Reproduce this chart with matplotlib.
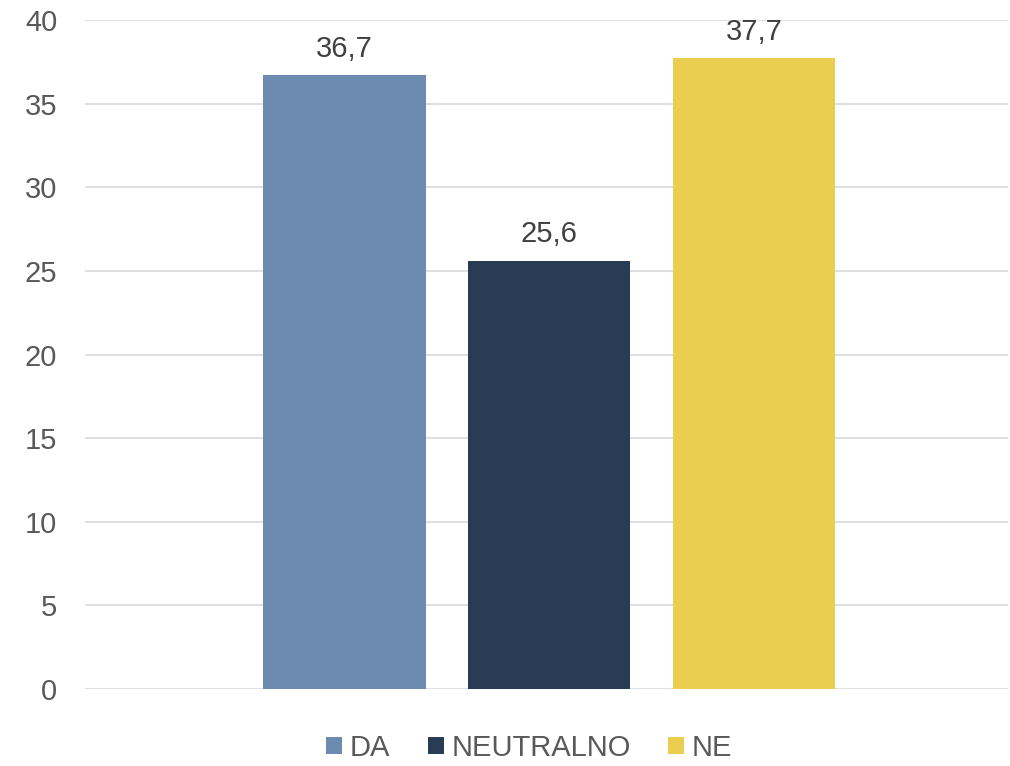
import matplotlib
matplotlib.use("Agg")
import matplotlib.pyplot as plt
from matplotlib.patches import Patch

plt.rcParams['font.family'] = ['Liberation Sans', 'DejaVu Sans']

series = ["DA", "NEUTRALNO", "NE"]
values = [36.7, 25.6, 37.7]
labels = ["36,7", "25,6", "37,7"]
colors = ["#6D8AB0", "#293C56", "#EBCE50"]
yticks = [0, 5, 10, 15, 20, 25, 30, 35, 40]

text_color = '#595959'
fs = 21

fig = plt.figure(figsize=(10.10, 7.66), dpi=100)
ax = fig.add_axes([85/1010, 77/766, 923/1010, 669/766])

width = 0.176
offsets = [-0.222, 0.0, 0.222]
for s, v, lab, c, off in zip(series, values, labels, colors, offsets):
    ax.bar(off + 0.003, v, width=width, color=c, label=s, zorder=3)
    ax.annotate(lab, (off + 0.003, v), xytext=(0, 9), textcoords='offset points',
                ha='center', va='bottom', fontsize=fs, color='#404040')

ax.set_xlim(-0.5, 0.5)
ax.set_ylim(0, 40)
ax.set_yticks(yticks)
ax.set_yticklabels([str(t) for t in yticks], fontsize=fs, color=text_color)
ax.set_xticks([])
ax.tick_params(axis='y', length=0, pad=20)
ax.grid(axis='y', color='#D9D9D9', linewidth=1.2, zorder=0)
for sp in ax.spines.values():
    sp.set_visible(False)

handles = [Patch(facecolor=c, label=s) for s, c in zip(series, colors)]
fig.legend(handles=handles, loc='center', bbox_to_anchor=(0.524, 1 - 748/766), ncol=3,
           frameon=False, fontsize=fs, handlelength=0.55, handleheight=0.55,
           handletextpad=0.25, columnspacing=1.3, labelcolor=text_color)

fig.savefig("out.png", dpi=100)
